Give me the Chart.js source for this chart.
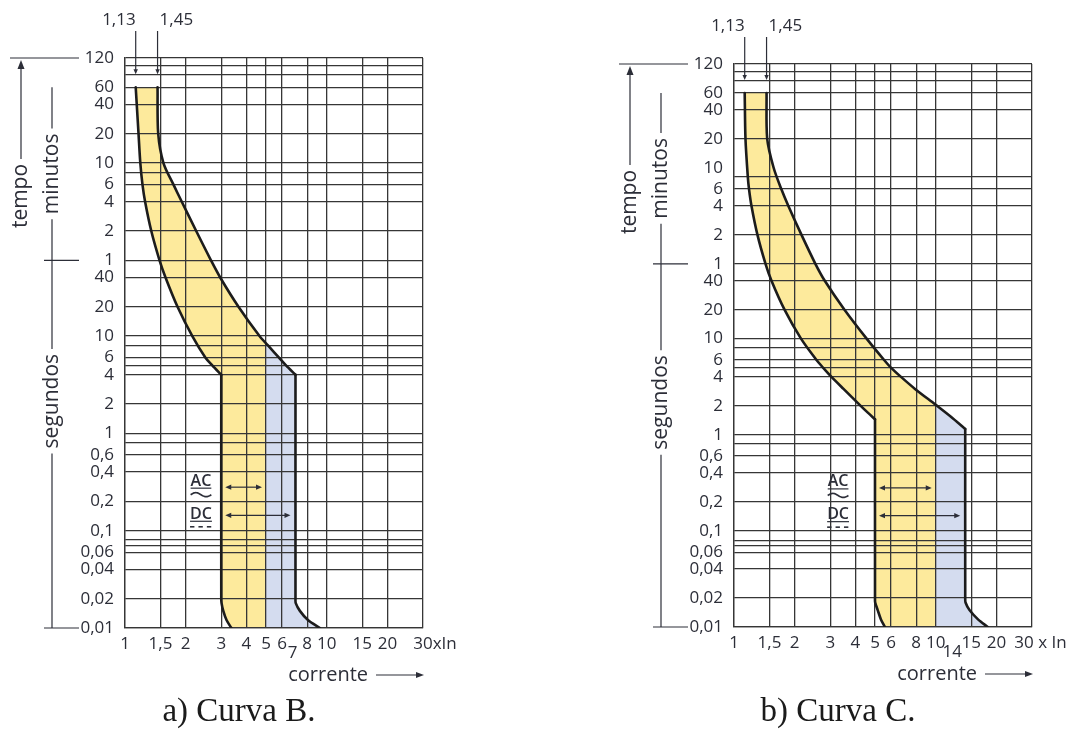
<!DOCTYPE html>
<html>
<head>
<meta charset="utf-8">
<script src="https://cdn.jsdelivr.net/npm/chart.js@4.4.1/dist/chart.umd.min.js"></script>
<style>
	html, body { margin: 0; padding: 0; background: #fff; }
	#page { position: relative; width: 1069px; height: 751px; overflow: hidden; }
	canvas { position: absolute; top: 0; }
	#curveB { left: 0; }
	#curveC { left: 600px; }
	.caption {
		position: absolute; top: 692px; transform: translateX(-50%);
		font-family: "Liberation Serif", "DejaVu Serif", serif; font-size: 33px;
		color: #1b1b1b; white-space: nowrap;
	}
</style>
</head>
<body>
<div id="page">
	<canvas id="curveB" width="480" height="700"></canvas>
	<canvas id="curveC" width="469" height="700"></canvas>
	<div class="caption" style="left:239px">a) Curva B.</div>
	<div class="caption" style="left:838px">b) Curva C.</div>
</div>
<script>
// current axis (multiples of In)
const currents = [1, 1.5, 2, 3, 4, 5, 6, 8, 10, 15, 20, 30];
const currentLabels = ["1", "1,5", "2", "3", "4", "5", "6", "8", "10", "15", "20", ""];

// time axis, in seconds (120 min down to 10 ms)
const timeTicks = [7200, 3600, 2400, 1200, 600, 360, 240, 120, 60, 40, 20, 10, 6, 4, 2, 1, 0.6, 0.4, 0.2, 0.1, 0.06, 0.04, 0.02, 0.01];
const timeLabels = ["120", "60", "40", "20", "10", "6", "4", "2", "1", "40", "20", "10", "6", "4", "2", "1", "0,6", "0,4", "0,2", "0,1", "0,06", "0,04", "0,02", "0,01"];
const timeLinesB = [7200, 6000, 4800, 3600, 2400, 1200, 600, 480, 360, 240, 120, 60, 40, 20, 10, 8, 6, 5, 4, 2, 1, 0.8, 0.6, 0.4, 0.2, 0.1, 0.08, 0.07, 0.06, 0.04, 0.02, 0.01];
const timeLinesC = [7200, 6000, 4800, 3600, 2400, 1200, 480, 360, 240, 120, 60, 40, 20, 10, 8, 6, 5, 4, 2, 1, 0.8, 0.6, 0.4, 0.2, 0.1, 0.08, 0.07, 0.06, 0.04, 0.02, 0.01];

// Curva B: trip band (lower = 1,13 side, upper = 1,45 side)
const bLowerX = [1.13, 1.167, 1.191, 1.221, 1.258, 1.35, 1.483, 1.588, 1.821, 2.156, 2.506, 2.708, 3, 3, 3.01, 3.07, 3.19, 3.37];
const bLowerT = [3600, 1200, 600, 360, 240, 120, 60, 40, 20, 10, 6, 5, 4, 0.02, 0.018, 0.015, 0.012, 0.01];
const bUpperX = [1.45, 1.461, 1.551, 1.739, 1.912, 2.254, 2.668, 2.964, 3.652, 4.642, 5.114, 5.799, 6.283, 7, 7, 7.02, 7.36, 8.09, 9.25];
const bUpperT = [3600, 1200, 600, 360, 240, 120, 60, 40, 20, 10, 8, 6, 5, 4, 0.02, 0.018, 0.015, 0.012, 0.01];

// Curva C
const cLowerX = [1.13, 1.14, 1.171, 1.187, 1.221, 1.307, 1.433, 1.534, 1.78, 2.148, 2.564, 2.762, 3.043, 3.49, 4.246, 4.605, 5, 5, 5.01, 5.155, 5.35, 5.6];
const cLowerT = [3600, 1200, 480, 360, 240, 120, 60, 40, 20, 10, 6, 5, 4, 3, 2, 1.7, 1.45, 0.02, 0.018, 0.015, 0.012, 0.01];
const cUpperX = [1.45, 1.461, 1.572, 1.716, 1.86, 2.161, 2.532, 2.818, 3.529, 4.543, 5.546, 5.995, 6.727, 7.892, 10, 11.85, 14, 14, 14.05, 14.7, 16.2, 18.1];
const cUpperT = [3600, 1200, 600, 360, 240, 120, 60, 40, 20, 10, 6, 5, 4, 3, 2.05, 1.55, 1.15, 0.02, 0.018, 0.015, 0.012, 0.01];

const gridColor = "#363636";
const inkColor = "#2c2e38";
const curveColor = "#1c1c1c";
const yellow = "#fdea9c";
const blue = "#d4dcef";
const sans = "'Open Sans', 'Noto Sans', sans-serif";

function toPoints(xs, ts) {
	return xs.map((v, i) => ({ x: v, y: ts[i] }));
}

// split a curve at the corner where the instantaneous (vertical) part starts
function splitCurve(xs, ts) {
	const k = xs.findIndex((v, i) => i > 0 && v === xs[i - 1]);
	return [toPoints(xs.slice(0, k), ts.slice(0, k)), toPoints(xs.slice(k - 1), ts.slice(k - 1))];
}

// fills the band between both curves: yellow up to the AC limit, blue beyond it
function bandPlugin(c) {
	return {
		id: "band",
		beforeDraw(chart) {
			const { ctx, chartArea: a, scales: { x } } = chart;
			const els = [0, 1, 2, 3].map((i) => chart.getDatasetMeta(i).dataset);
			els.forEach((el) => el.updateControlPoints(a, "x"));
			const [lowMain, lowFoot, upMain, upFoot] = els;
			const path = new Path2D();
			lowMain.pathSegment(path, lowMain.segments[0], { move: true });
			lowFoot.pathSegment(path, lowFoot.segments[0], { move: false });
			upFoot.pathSegment(path, upFoot.segments[0], { move: false, reverse: true });
			upMain.pathSegment(path, upMain.segments[0], { move: false, reverse: true });
			path.closePath();

			ctx.save();
			ctx.beginPath();
			ctx.rect(a.left, a.top, a.width, a.height);
			ctx.clip();
			ctx.fillStyle = blue;
			ctx.fill(path);
			const xAc = x.getPixelForValue(c.acLimit);
			ctx.beginPath();
			ctx.rect(a.left, a.top, xAc - a.left, a.height);
			ctx.clip();
			ctx.fillStyle = yellow;
			ctx.fill(path);
			ctx.restore();
		},
	};
}

// side captions, arrows and the AC / DC marks
function notesPlugin(c) {
	return {
		id: "notes",
		afterDraw(chart) {
			const { ctx, chartArea: a, scales: { x, y } } = chart;
			const X = (v) => x.getPixelForValue(v);
			const Y = (v) => y.getPixelForValue(v);
			const seg = (x0, y0, x1, y1) => {
				ctx.beginPath();
				ctx.moveTo(x0, y0);
				ctx.lineTo(x1, y1);
				ctx.stroke();
			};
			const head = (tx, ty, ang, len, half) => {
				const cs = Math.cos(ang), sn = Math.sin(ang);
				ctx.beginPath();
				ctx.moveTo(tx, ty);
				ctx.lineTo(tx - len * cs + half * sn, ty - len * sn - half * cs);
				ctx.lineTo(tx - len * cs - half * sn, ty - len * sn + half * cs);
				ctx.closePath();
				ctx.fill();
			};
			const vtext = (s, cx, cy) => {
				ctx.save();
				ctx.translate(cx, cy);
				ctx.rotate(-Math.PI / 2);
				ctx.fillText(s, 0, 0);
				ctx.restore();
				return ctx.measureText(s).width;
			};

			ctx.save();
			ctx.strokeStyle = inkColor;
			ctx.fillStyle = inkColor;
			ctx.lineWidth = 1.2;
			ctx.textBaseline = "middle";

			// tempo / minutos / segundos on the left
			const yHour = Y(3600), yMin = Y(60), yTop = a.top, yBot = a.bottom;
			const xT = a.left - 104, xM = a.left - 73;
			seg(a.left - 115, yTop, a.left - 46, yTop);
			seg(a.left - 81, yMin, a.left - 46, yMin);
			seg(a.left - 81, yBot, a.left - 46, yBot);

			ctx.font = `21px ${sans}`;
			ctx.textAlign = "center";
			const tc = yTop + 138;
			const tw = vtext("tempo", xT, tc);
			seg(xT, yTop + 8, xT, tc - tw / 2 - 5);
			head(xT, yTop + 2, -Math.PI / 2, 9, 3.5);

			const mc = (yHour + yMin) / 2;
			const mw = vtext("minutos", xM, mc);
			seg(xM, yHour, xM, mc - mw / 2 - 5);
			seg(xM, mc + mw / 2 + 5, xM, yMin);

			const sc = (yMin + yBot) / 2 - 43;
			const sw = vtext("segundos", xM, sc);
			seg(xM, yMin, xM, sc - sw / 2 - 5);
			seg(xM, sc + sw / 2 + 5, xM, yBot);

			// 1,13 and 1,45 markers above the grid
			ctx.font = `17px ${sans}`;
			const tipY = Y(4800) - 1;
			c.tags.forEach((v, i) => {
				const px = X(v);
				seg(px, a.top - 27, px, tipY - 4);
				head(px, tipY, Math.PI / 2, 5, 2.2);
				ctx.textAlign = i ? "left" : "right";
				ctx.fillText(v.toFixed(2).replace(".", ","), px + (i ? 2 : 0), a.top - 38);
			});

			// DC limit under the axis and the last current label with its unit
			const labelY = a.bottom + 6 + 10.2;
			ctx.textAlign = "center";
			ctx.fillText(String(c.dcLimit), X(c.dcLimit) + c.dcLabelShift, a.bottom + 25);
			ctx.textAlign = "left";
			const w30 = ctx.measureText("30").width;
			ctx.fillText("30" + c.unit, X(30) - w30 / 2 + c.lastShift, labelY);

			// corrente arrow
			ctx.font = `20px ${sans}`;
			ctx.textAlign = "right";
			const cy = a.bottom + 47;
			ctx.fillText("corrente", a.right - 55, cy);
			seg(a.right - 47, cy, a.right - 5, cy);
			head(a.right + 1, cy, 0, 8, 3);

			// AC / DC ranges
			const x0 = X(c.step) + 4;
			const drawRange = (yy, xEnd) => {
				seg(x0 + 4, yy, xEnd - 4, yy);
				head(x0, yy, Math.PI, 6, 2.6);
				head(xEnd, yy, 0, 6, 2.6);
			};
			const acY = Y(c.acY), dcY = Y(c.dcY);
			drawRange(acY, X(c.acLimit) - 4);
			drawRange(dcY, X(c.dcLimit) - 5);

			ctx.font = `600 16px ${sans}`;
			ctx.textAlign = "center";
			const lx = X(c.labelX);
			ctx.fillText("AC", lx, acY - 6);
			const aw = ctx.measureText("AC").width;
			seg(lx - aw / 2, acY + 1, lx + aw / 2, acY + 1);
			ctx.lineWidth = 1.7;
			ctx.beginPath();
			for (let k = 0; k <= 24; k++) {
				const t = k / 24;
				const px = lx - aw / 2 + t * aw;
				const py = acY + 7.5 - 2 * Math.sin(t * 2 * Math.PI);
				if (k) ctx.lineTo(px, py);
				else ctx.moveTo(px, py);
			}
			ctx.stroke();
			ctx.lineWidth = 1.2;
			ctx.fillText("DC", lx, dcY - 1);
			const dw = ctx.measureText("DC").width;
			seg(lx - dw / 2, dcY + 6, lx + dw / 2, dcY + 6);
			ctx.lineWidth = 1.6;
			for (let k = 0; k < 3; k++) {
				const sx = lx - dw / 2 + k * dw / 2.6;
				seg(sx, dcY + 11.5, sx + dw / 5, dcY + 11.5);
			}
			ctx.restore();
		},
	};
}

function makeChart(id, c) {
	const canvas = document.getElementById(id);
	const W = canvas.width, H = canvas.height;
	const yTicks = Array.from(new Set(c.lines.concat(timeTicks))).sort((p, q) => p - q);
	const curve = (pts) => ({
		data: pts,
		showLine: true,
		borderColor: curveColor,
		borderWidth: 2.6,
		borderJoinStyle: "round",
		borderCapStyle: "round",
		pointRadius: 0,
		tension: 0.3,
		fill: false,
	});
	const [lowMain, lowFoot] = splitCurve(c.lowerX, c.lowerT);
	const [upMain, upFoot] = splitCurve(c.upperX, c.upperT);

	return new Chart(canvas.getContext("2d"), {
		type: "scatter",
		data: {
			datasets: [curve(lowMain), curve(lowFoot), curve(upMain), curve(upFoot)],
		},
		options: {
			responsive: false,
			animation: false,
			events: [],
			layout: { padding: { top: c.area.top, right: W - c.area.right, left: 0, bottom: 0 } },
			plugins: { legend: { display: false }, tooltip: { enabled: false } },
			scales: {
				x: {
					type: "logarithmic",
					position: "bottom",
					min: 1,
					max: 30,
					bounds: "data",
					afterBuildTicks: (s) => {
						s.ticks = currents.map((v) => ({ value: v }));
					},
					afterFit: (s) => {
						s.height = H - c.area.bottom;
					},
					grid: { color: gridColor, lineWidth: 1.3, drawTicks: false },
					border: { color: gridColor, width: 1.3 },
					ticks: {
						autoSkip: false,
						maxRotation: 0,
						padding: 6,
						color: inkColor,
						font: { family: sans, size: 17 },
						callback: (v) => currentLabels[currents.indexOf(v)] ?? "",
					},
				},
				y: {
					type: "logarithmic",
					position: "left",
					min: 0.01,
					max: 7200,
					bounds: "data",
					afterBuildTicks: (s) => {
						s.ticks = yTicks.map((v) => ({ value: v }));
					},
					afterFit: (s) => {
						s.width = c.area.left;
					},
					grid: {
						color: (g) => (c.lines.includes(g.tick.value) ? gridColor : "rgba(0,0,0,0)"),
						lineWidth: 1.3,
						drawTicks: false,
					},
					border: { color: gridColor, width: 1.3 },
					ticks: {
						autoSkip: false,
						padding: 11,
						color: inkColor,
						font: { family: sans, size: 17 },
						callback: (v) => timeLabels[timeTicks.indexOf(v)] ?? "",
					},
				},
			},
		},
		plugins: [bandPlugin(c), notesPlugin(c)],
	});
}

makeChart("curveB", {
	area: { left: 125, top: 58, right: 423, bottom: 628 },
	lines: timeLinesB,
	tags: [1.13, 1.45],
	lowerX: bLowerX, lowerT: bLowerT,
	upperX: bUpperX, upperT: bUpperT,
	step: 3, acLimit: 5, dcLimit: 7,
	acY: 0.28, dcY: 0.144, labelX: 2.38,
	dcLabelShift: -3, lastShift: 0,
	unit: "xIn",
});

makeChart("curveC", {
	area: { left: 134, top: 64, right: 432, bottom: 627 },
	lines: timeLinesC,
	tags: [1.13, 1.45],
	lowerX: cLowerX, lowerT: cLowerT,
	upperX: cUpperX, upperT: cUpperT,
	step: 5, acLimit: 10, dcLimit: 14,
	acY: 0.28, dcY: 0.144, labelX: 3.28,
	dcLabelShift: -13, lastShift: -8,
	unit: " x In",
});
</script>
</body>
</html>
